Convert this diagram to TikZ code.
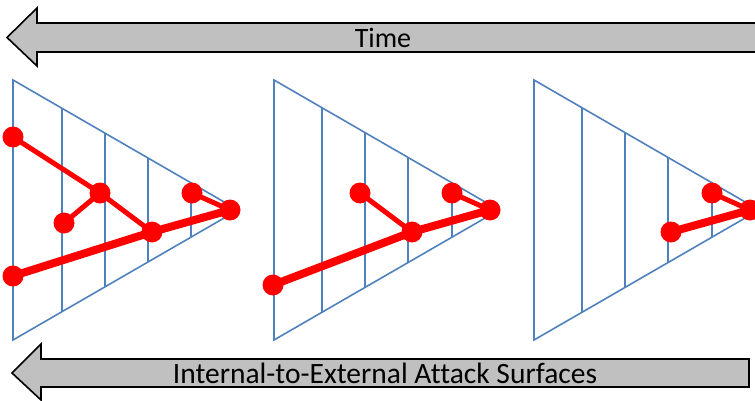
\documentclass[tikz,border=0pt]{standalone}
\usepackage{fontspec}
\setmainfont{Carlito}[Ligatures=NoCommon]
\usetikzlibrary{positioning}
\definecolor{surfblue}{RGB}{79,129,189}
\definecolor{bannergray}{RGB}{192,192,192}

\begin{document}
\begin{tikzpicture}[
    x=1pt, y=-1pt,
    surface/.style={draw=surfblue, line width=1.6pt, line join=miter},
    ring/.style={draw=surfblue, line width=1.6pt},
    hop/.style={circle, fill=red, inner sep=0pt, minimum size=21pt},
    thinpath/.style={draw=red, line width=5pt, line join=round},
    thickpath/.style={draw=red, line width=8pt, line join=round},
    banner/.style={draw=black, line width=1.6pt, fill=bannergray},
    caption/.style={font=\fontsize{28}{32}\selectfont, inner sep=0pt}
]
\useasboundingbox (0,0) rectangle (755,401);

% Time arrow
\draw[banner] (7,37.5) -- (37,8) -- (37,23) -- (770,23) -- (770,52) -- (37,52) -- (37,66) -- cycle;
\node[caption] (time) at (383,37.5) {Time};

% Attack surface arrow
\draw[banner] (12,373) -- (41,344) -- (41,359) -- (749,359) -- (749,387) -- (41,387) -- (41,400) -- cycle;
\node[caption, font=\fontsize{29.5}{33}\selectfont] (surfaces) at (385,373) {Internal-to-External Attack Surfaces};

% Surfaces, first stage
\begin{scope}[xshift=13pt]
\draw[surface] (0,80) -- (225,210) -- (0,340) -- cycle;
\draw[ring] (49,108.3) -- (49,311.7);
\draw[ring] (92,133.2) -- (92,286.8);
\draw[ring] (135,158) -- (135,262);
\draw[ring] (178,182.8) -- (178,237.2);
\end{scope}

% Surfaces, second stage
\begin{scope}[xshift=274pt]
\draw[surface] (0,80) -- (225,210) -- (0,340) -- cycle;
\draw[ring] (48,107.7) -- (48,312.3);
\draw[ring] (91,132.6) -- (91,287.4);
\draw[ring] (134,157.4) -- (134,262.6);
\draw[ring] (178,182.8) -- (178,237.2);
\end{scope}

% Surfaces, third stage
\begin{scope}[xshift=534pt]
\draw[surface] (0,80) -- (225,210) -- (0,340) -- cycle;
\draw[ring] (48,107.7) -- (48,312.3);
\draw[ring] (91,132.6) -- (91,287.4);
\draw[ring] (134,157.4) -- (134,262.6);
\draw[ring] (178,182.8) -- (178,237.2);
\end{scope}

% Hops, first stage
\node[hop] (a1) at (13,137) {};
\node[hop] (b1) at (100,193) {};
\node[hop] (c1) at (64,223) {};
\node[hop] (d1) at (152,232) {};
\node[hop] (e1) at (192,193) {};
\node[hop] (f1) at (230,210) {};
\node[hop] (g1) at (13,276) {};

% Hops, second stage
\node[hop] (b2) at (360,193) {};
\node[hop] (d2) at (412,232) {};
\node[hop] (e2) at (452,193) {};
\node[hop] (f2) at (490,210) {};
\node[hop] (g2) at (273,285) {};

% Hops, third stage
\node[hop] (d3) at (671,232) {};
\node[hop] (e3) at (712,193) {};
\node[hop] (f3) at (750,210) {};

% Paths
\draw[thinpath] (a1.center) -- (b1.center) -- (d1.center);
\draw[thinpath] (c1.center) -- (b1.center);
\draw[thinpath] (e1.center) -- (f1.center);
\draw[thickpath] (g1.center) -- (d1.center) -- (f1.center);

\draw[thinpath] (b2.center) -- (d2.center);
\draw[thinpath] (e2.center) -- (f2.center);
\draw[thickpath] (g2.center) -- (d2.center) -- (f2.center);

\draw[thinpath] (e3.center) -- (f3.center);
\draw[thickpath] (d3.center) -- (f3.center);

\end{tikzpicture}
\end{document}
